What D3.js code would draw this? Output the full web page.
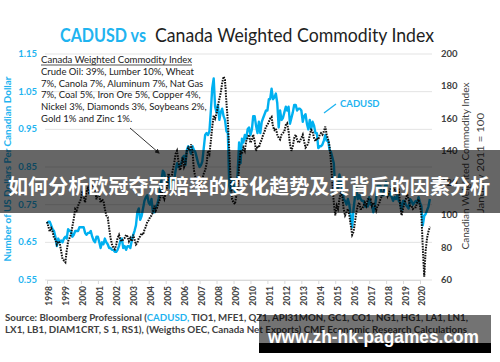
<!DOCTYPE html>
<html>
<head>
<meta charset="utf-8">
<script src="https://cdn.jsdelivr.net/npm/d3@7"></script>
<style>
  body { margin: 0; background: #fff; }
  svg { display: block; font-family: Lato, "Open Sans", sans-serif; }
</style>
</head>
<body>
<div id="chart"></div>
<script>
// Monthly CADUSD, Jan 1998 .. Aug 2020
const cadusd = [
  0.700, 0.705, 0.705, 0.695, 0.685, 0.680, 0.665, 0.640, 0.660, 0.650, 0.655, 0.650,
  0.660, 0.665, 0.660, 0.685, 0.680, 0.680, 0.665, 0.670, 0.680, 0.680, 0.680, 0.690,
  0.690, 0.690, 0.690, 0.675, 0.670, 0.675, 0.675, 0.680, 0.665, 0.655, 0.650, 0.665,
  0.665, 0.650, 0.635, 0.650, 0.645, 0.660, 0.650, 0.645, 0.635, 0.635, 0.630, 0.630,
  0.625, 0.625, 0.630, 0.640, 0.655, 0.660, 0.635, 0.640, 0.630, 0.640, 0.640, 0.635,
  0.655, 0.670, 0.680, 0.695, 0.730, 0.740, 0.710, 0.720, 0.740, 0.760, 0.770, 0.775,
  0.755, 0.750, 0.765, 0.730, 0.730, 0.745, 0.750, 0.765, 0.790, 0.815, 0.840, 0.835,
  0.805, 0.810, 0.825, 0.795, 0.795, 0.815, 0.815, 0.840, 0.860, 0.850, 0.855, 0.860,
  0.875, 0.880, 0.855, 0.895, 0.905, 0.895, 0.885, 0.905, 0.895, 0.890, 0.875, 0.860,
  0.850, 0.855, 0.865, 0.900, 0.935, 0.940, 0.935, 0.945, 1.000, 1.060, 1.085, 1.010,
  0.995, 1.015, 0.975, 0.995, 1.005, 0.985, 0.975, 0.945, 0.940, 0.800, 0.785, 0.810,
  0.815, 0.785, 0.780, 0.835, 0.915, 0.860, 0.925, 0.915, 0.935, 0.925, 0.950, 0.955,
  0.935, 0.950, 0.985, 0.985, 0.960, 0.940, 0.970, 0.940, 0.970, 0.980, 0.990, 1.000,
  1.000, 1.030, 1.030, 1.058, 1.030, 1.035, 1.045, 1.020, 0.955, 1.000, 0.975, 0.980,
  0.995, 1.010, 1.000, 1.010, 0.965, 0.980, 0.995, 1.015, 1.015, 1.000, 1.005, 1.005,
  1.000, 0.970, 0.985, 0.990, 0.965, 0.950, 0.975, 0.950, 0.970, 0.960, 0.940, 0.940,
  0.900, 0.905, 0.905, 0.910, 0.920, 0.935, 0.920, 0.920, 0.895, 0.890, 0.875, 0.860,
  0.790, 0.800, 0.790, 0.830, 0.805, 0.800, 0.765, 0.760, 0.750, 0.765, 0.750, 0.720,
  0.690, 0.740, 0.770, 0.795, 0.765, 0.775, 0.765, 0.760, 0.760, 0.745, 0.745, 0.745,
  0.770, 0.750, 0.750, 0.730, 0.740, 0.770, 0.800, 0.800, 0.800, 0.775, 0.775, 0.795,
  0.810, 0.780, 0.775, 0.780, 0.770, 0.760, 0.770, 0.765, 0.775, 0.760, 0.755, 0.735,
  0.760, 0.760, 0.750, 0.745, 0.740, 0.765, 0.760, 0.750, 0.755, 0.760, 0.755, 0.770,
  0.755, 0.745, 0.695, 0.720, 0.725, 0.735, 0.745, 0.765
];

// Canada Weighted Commodity Index (right axis), Jan 1998 .. Aug 2020
const commodity = [
  96, 93, 90, 92, 90, 86, 85, 82, 84, 83, 78, 73,
  72, 71, 78, 84, 86, 88, 93, 98, 104, 103, 106, 108,
  110, 115, 112, 108, 115, 117, 113, 116, 119, 117, 116, 110,
  114, 112, 108, 110, 109, 104, 100, 99, 92, 86, 82, 80,
  79, 82, 86, 88, 85, 84, 85, 86, 88, 87, 84, 86,
  84, 88, 85, 82, 83, 86, 87, 89, 88, 91, 93, 96,
  97, 99, 100, 102, 106, 103, 105, 108, 110, 116, 112, 110,
  114, 118, 126, 124, 122, 128, 132, 138, 140, 134, 128, 130,
  136, 130, 132, 140, 142, 140, 144, 140, 128, 124, 122, 124,
  114, 120, 122, 126, 128, 132, 140, 138, 146, 155, 162, 160,
  163, 168, 172, 176, 182, 186, 184, 170, 158, 140, 122, 110,
  108, 107, 112, 118, 130, 140, 138, 142, 140, 146, 148, 150,
  145, 147, 150, 146, 140, 143, 142, 145, 147, 150, 152, 155,
  156, 158, 160, 161, 155, 153, 154, 150, 148, 147, 150, 151,
  152, 156, 157, 152, 144, 140, 143, 148, 150, 147, 145, 146,
  148, 150, 146, 142, 143, 145, 150, 153, 152, 148, 146, 148,
  147, 150, 151, 150, 152, 155, 150, 147, 143, 133, 120, 108,
  100, 106, 104, 110, 114, 112, 104, 100, 102, 104, 100, 94,
  88, 90, 96, 102, 106, 108, 104, 104, 106, 108, 106, 110,
  110, 110, 106, 108, 106, 103, 106, 107, 110, 112, 114, 116,
  116, 112, 114, 116, 118, 116, 116, 114, 116, 116, 106, 100,
  104, 108, 110, 113, 110, 106, 106, 104, 105, 105, 108, 110,
  106, 100, 80, 62, 78, 86, 90, 93
];

const years = d3.range(1998, 2021);
const leftTicks = [0.55, 0.65, 0.75, 0.85, 0.95, 1.05, 1.15];
const rightTicks = [60, 80, 100, 120, 140, 160, 180, 200];

const weightsLines = [
  "Crude Oil: 39%, Lumber 10%, Wheat",
  "7%, Canola 7%, Aluminum 7%, Nat Gas",
  "7%, Coal 5%, Iron Ore 5%, Copper 4%,",
  "Nickel 3%, Diamonds 3%, Soybeans 2%,",
  "Gold 1% and Zinc 1%."
];

const blue = "#00b0f0";
const width = 500, height = 362;

const svg = d3.select("#chart").append("svg")
    .attr("width", width)
    .attr("height", height);

const x = d3.scaleTime()
    .domain([new Date(1998, 0, 1), new Date(2020, 0, 1)])
    .range([47, 420]);
const yL = d3.scaleLinear().domain([0.55, 1.15]).range([280, 54]);
const yR = d3.scaleLinear().domain([60, 200]).range([280, 54]);

const monthDate = i => new Date(1998, i, 1);

// gridlines
svg.append("g")
    .selectAll("line")
    .data(leftTicks)
    .join("line")
    .attr("x1", 45).attr("x2", 432)
    .attr("y1", d => yL(d)).attr("y2", d => yL(d))
    .attr("stroke", "#e3e3e3")
    .attr("stroke-width", 1);

// x axis
const xAxis = svg.append("g")
    .attr("transform", "translate(0,280)")
    .call(d3.axisBottom(x).tickValues(years.map(y => new Date(y, 0, 1)))
        .tickFormat(d3.timeFormat("%Y")).tickSize(4).tickSizeOuter(0));
xAxis.select(".domain").attr("stroke", "#d9d9d9");
xAxis.selectAll(".tick line").attr("stroke", "#d9d9d9");
xAxis.selectAll(".tick text")
    .attr("transform", "rotate(-90)")
    .attr("text-anchor", "end")
    .attr("x", -6).attr("y", 2).attr("dy", "0.35em")
    .attr("font-family", "Lato, sans-serif")
    .attr("font-size", 8.5)
    .attr("font-weight", "bold")
    .attr("fill", "#404040");

// left axis labels
svg.append("g")
    .selectAll("text")
    .data(leftTicks)
    .join("text")
    .attr("x", 37).attr("y", d => yL(d) + 3)
    .attr("text-anchor", "end")
    .attr("font-size", 9.5).attr("font-weight", "bold")
    .attr("fill", "#1fb4f0")
    .text(d => d.toFixed(2));

// right axis labels
svg.append("g")
    .selectAll("text")
    .data(rightTicks)
    .join("text")
    .attr("x", 441).attr("y", d => yR(d) + 3)
    .attr("font-size", 9.5).attr("font-weight", "bold")
    .attr("fill", "#404040")
    .text(d => d);

// lines
const lineL = d3.line().x((d, i) => x(monthDate(i))).y(d => yL(d));
const lineR = d3.line().x((d, i) => x(monthDate(i))).y(d => yR(d));

svg.append("path")
    .datum(cadusd)
    .attr("d", lineL)
    .attr("fill", "none")
    .attr("stroke", blue)
    .attr("stroke-width", 2.4)
    .attr("stroke-linejoin", "round");

svg.append("path")
    .datum(commodity)
    .attr("d", lineR)
    .attr("fill", "none")
    .attr("stroke", "#111")
    .attr("stroke-width", 2)
    .attr("stroke-dasharray", "1.6,1.1");

// title
svg.append("text")
    .attr("x", 60).attr("y", 42)
    .attr("font-size", 19).attr("font-weight", "bold")
    .attr("fill", "#1fb4f0")
    .attr("textLength", 86).attr("lengthAdjust", "spacingAndGlyphs")
    .text("CADUSD vs");
svg.append("text")
    .attr("x", 155).attr("y", 42)
    .attr("font-size", 19)
    .attr("fill", "#1e1e1e")
    .attr("textLength", 279).attr("lengthAdjust", "spacingAndGlyphs")
    .text("Canada Weighted Commodity Index");

// axis titles
svg.append("text")
    .attr("transform", "translate(8,169) rotate(-90)")
    .attr("dy", "0.35em")
    .attr("text-anchor", "middle")
    .attr("font-size", 9.5).attr("font-weight", "bold")
    .attr("fill", "#1fb4f0")
    .attr("textLength", 185).attr("lengthAdjust", "spacingAndGlyphs")
    .text("Number of US Dollars Per Canadian Dollar");
svg.append("text")
    .attr("transform", "translate(466,166) rotate(-90)")
    .attr("dy", "0.35em")
    .attr("text-anchor", "middle")
    .attr("font-size", 9.5)
    .attr("fill", "#404040")
    .attr("textLength", 167).attr("lengthAdjust", "spacingAndGlyphs")
    .text("Canadian Weighted Commodity Index");
svg.append("text")
    .attr("transform", "translate(481,163) rotate(-90)")
    .attr("dy", "0.35em")
    .attr("text-anchor", "middle")
    .attr("font-size", 9.5)
    .attr("fill", "#404040")
    .attr("textLength", 100).attr("lengthAdjust", "spacingAndGlyphs")
    .text("January 2011 = 100");

// weights note
svg.append("text")
    .attr("x", 41).attr("y", 63)
    .attr("font-size", 9.5)
    .attr("fill", "#1a1a1a")
    .attr("textLength", 151).attr("lengthAdjust", "spacingAndGlyphs")
    .text("Canada Weighted Commodity Index");
svg.append("line")
    .attr("x1", 41).attr("x2", 192).attr("y1", 65).attr("y2", 65)
    .attr("stroke", "#262626").attr("stroke-width", 0.8);
svg.append("g")
    .selectAll("text")
    .data(weightsLines)
    .join("text")
    .attr("x", 41).attr("y", (d, i) => 74.8 + i * 11.8)
    .attr("font-size", 9.5)
    .attr("fill", "#1a1a1a")
    .text(d => d);

// arrows
svg.append("defs").append("marker")
    .attr("id", "head")
    .attr("viewBox", "0 0 10 10")
    .attr("refX", 8).attr("refY", 5)
    .attr("markerWidth", 5).attr("markerHeight", 5)
    .attr("orient", "auto")
    .append("path").attr("d", "M0,0L10,5L0,10z").attr("fill", "#333");
svg.append("line")
    .attr("x1", 130).attr("y1", 128).attr("x2", 159).attr("y2", 153)
    .attr("stroke", "#333").attr("stroke-width", 1)
    .attr("marker-end", "url(#head)");
svg.append("line")
    .attr("x1", 336).attr("y1", 104).attr("x2", 324).attr("y2", 113)
    .attr("stroke", "#1fb4f0").attr("stroke-width", 1.3);
svg.append("text")
    .attr("x", 340).attr("y", 107)
    .attr("font-size", 9.5).attr("font-weight", "bold")
    .attr("fill", "#1fb4f0")
    .text("CADUSD");

// source
const src1 = svg.append("text")
    .attr("x", 5).attr("y", 320.5)
    .attr("font-size", 8.6).attr("font-weight", "bold")
    .attr("fill", "#404040")
    .attr("textLength", 463).attr("lengthAdjust", "spacingAndGlyphs");
src1.append("tspan").text("Source: Bloomberg Professional  (");
src1.append("tspan").attr("fill", "#1fb4f0").text("CADUSD,");
src1.append("tspan").text(" TIO1, MFE1, QZ1, API31MON, GC1, CO1, NG1, HG1, LA1, LN1,");
svg.append("text")
    .attr("x", 5).attr("y", 333)
    .attr("font-size", 8.6).attr("font-weight", "bold")
    .attr("fill", "#404040")
    .attr("textLength", 462).attr("lengthAdjust", "spacingAndGlyphs")
    .text("LX1, LB1, DIAM1CRT, S 1, RS1), (Weigths OEC, Canada Net Exports) CME Economic Research Calculations");

// overlay banner
svg.append("rect")
    .attr("x", 0).attr("y", 150).attr("width", 500).attr("height", 63)
    .attr("fill", "rgba(0,0,0,0.6)");
svg.append("text")
    .attr("x", 8).attr("y", 194)
    .attr("font-family", "'Noto Sans CJK SC', sans-serif")
    .attr("font-size", 20).attr("font-weight", "bold")
    .attr("fill", "#fff")
    .attr("textLength", 482).attr("lengthAdjust", "spacingAndGlyphs")
    .text("如何分析欧冠夺冠赔率的变化趋势及其背后的因素分析");

// watermark
svg.append("rect")
    .attr("x", 259).attr("y", 315).attr("width", 232).attr("height", 28)
    .attr("fill", "rgba(0,0,0,0.55)");
svg.append("rect")
    .attr("x", 259).attr("y", 343).attr("width", 232).attr("height", 10)
    .attr("fill", "#000");
svg.append("text")
    .attr("x", 268).attr("y", 342.5)
    .attr("font-family", "'Liberation Sans', Arial, sans-serif")
    .attr("font-size", 19).attr("font-weight", "bold")
    .attr("fill", "#fff")
    .attr("textLength", 211).attr("lengthAdjust", "spacingAndGlyphs")
    .text("www.zh-hk-pagames.com");
</script>
</body>
</html>
